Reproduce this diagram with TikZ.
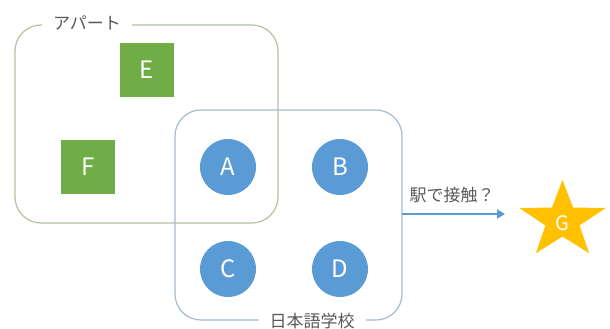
\documentclass[tikz,border=0pt]{standalone}
\usepackage{fontspec}
\setmainfont{Noto Sans CJK JP}
\usetikzlibrary{arrows.meta}
\definecolor{aptline}{HTML}{B2C2A2}
\definecolor{schline}{HTML}{A7B9CF}
\definecolor{circfill}{HTML}{5B9BD5}
\definecolor{sqfill}{HTML}{70AD47}
\definecolor{starfill}{HTML}{FFC000}
\definecolor{lbl}{HTML}{595959}
\tikzset{
  grp/.style={draw, line width=1.2pt, rounded corners=26pt, inner sep=0pt, outer sep=0pt},
  grplabel/.style={fill=white, text=lbl, font=\fontsize{17}{19}\selectfont, inner xsep=11pt, inner ysep=2pt},
  person/.style={circle, fill=circfill, minimum size=56pt, inner sep=0pt, text=white, font=\fontsize{24}{26}\selectfont},
  sq/.style={rectangle, fill=sqfill, minimum size=54pt, inner sep=0pt, text=white, font=\fontsize{24}{26}\selectfont},
  arrowline/.style={draw=circfill, line width=2.6pt, -{Triangle[length=8pt,width=9pt]}},
}
\begin{document}
\begin{tikzpicture}[x=1pt,y=-1pt]
\useasboundingbox (0,0) rectangle (610,329);
% apartment group
\node[grp, draw=aptline, minimum width=263pt, minimum height=198pt] (apt) at (146.5,124) {};
\node[grplabel] (aptlbl) at (87,23) {アパート};
% school group
\node[grp, draw=schline, minimum width=227pt, minimum height=210pt] (school) at (288.5,215) {};
\node[grplabel] (schlbl) at (312,321) {日本語学校};
% squares
\node[sq] (E) at (147,70) {E};
\node[sq] (F) at (88,167) {F};
% circles
\node[person] (A) at (228,167) {A};
\node[person] (B) at (340,167) {B};
\node[person] (C) at (228,269) {C};
\node[person] (D) at (340,269) {D};
% arrow
\coordinate (tip) at (505,214);
\draw[arrowline] (school.east|-tip) -- (tip);
\node[text=lbl, font=\fontsize{17}{19}\selectfont, inner sep=0pt] (arrlbl) at (452,195) {駅で接触？};
% star
\begin{scope}[shift={(562.5,220.5)}, xscale=1.12]
  \fill[starfill] (90:-40.5) \foreach \i in {1,...,9} {
      -- ({-90+36*\i}:{ifthenelse(mod(\i,2)==1,16,40.5)})
    } -- cycle;
\end{scope}
\node[text=white, font=\fontsize{20}{22}\selectfont, inner sep=0pt] (G) at (562.5,223) {G};
\end{tikzpicture}
\end{document}
